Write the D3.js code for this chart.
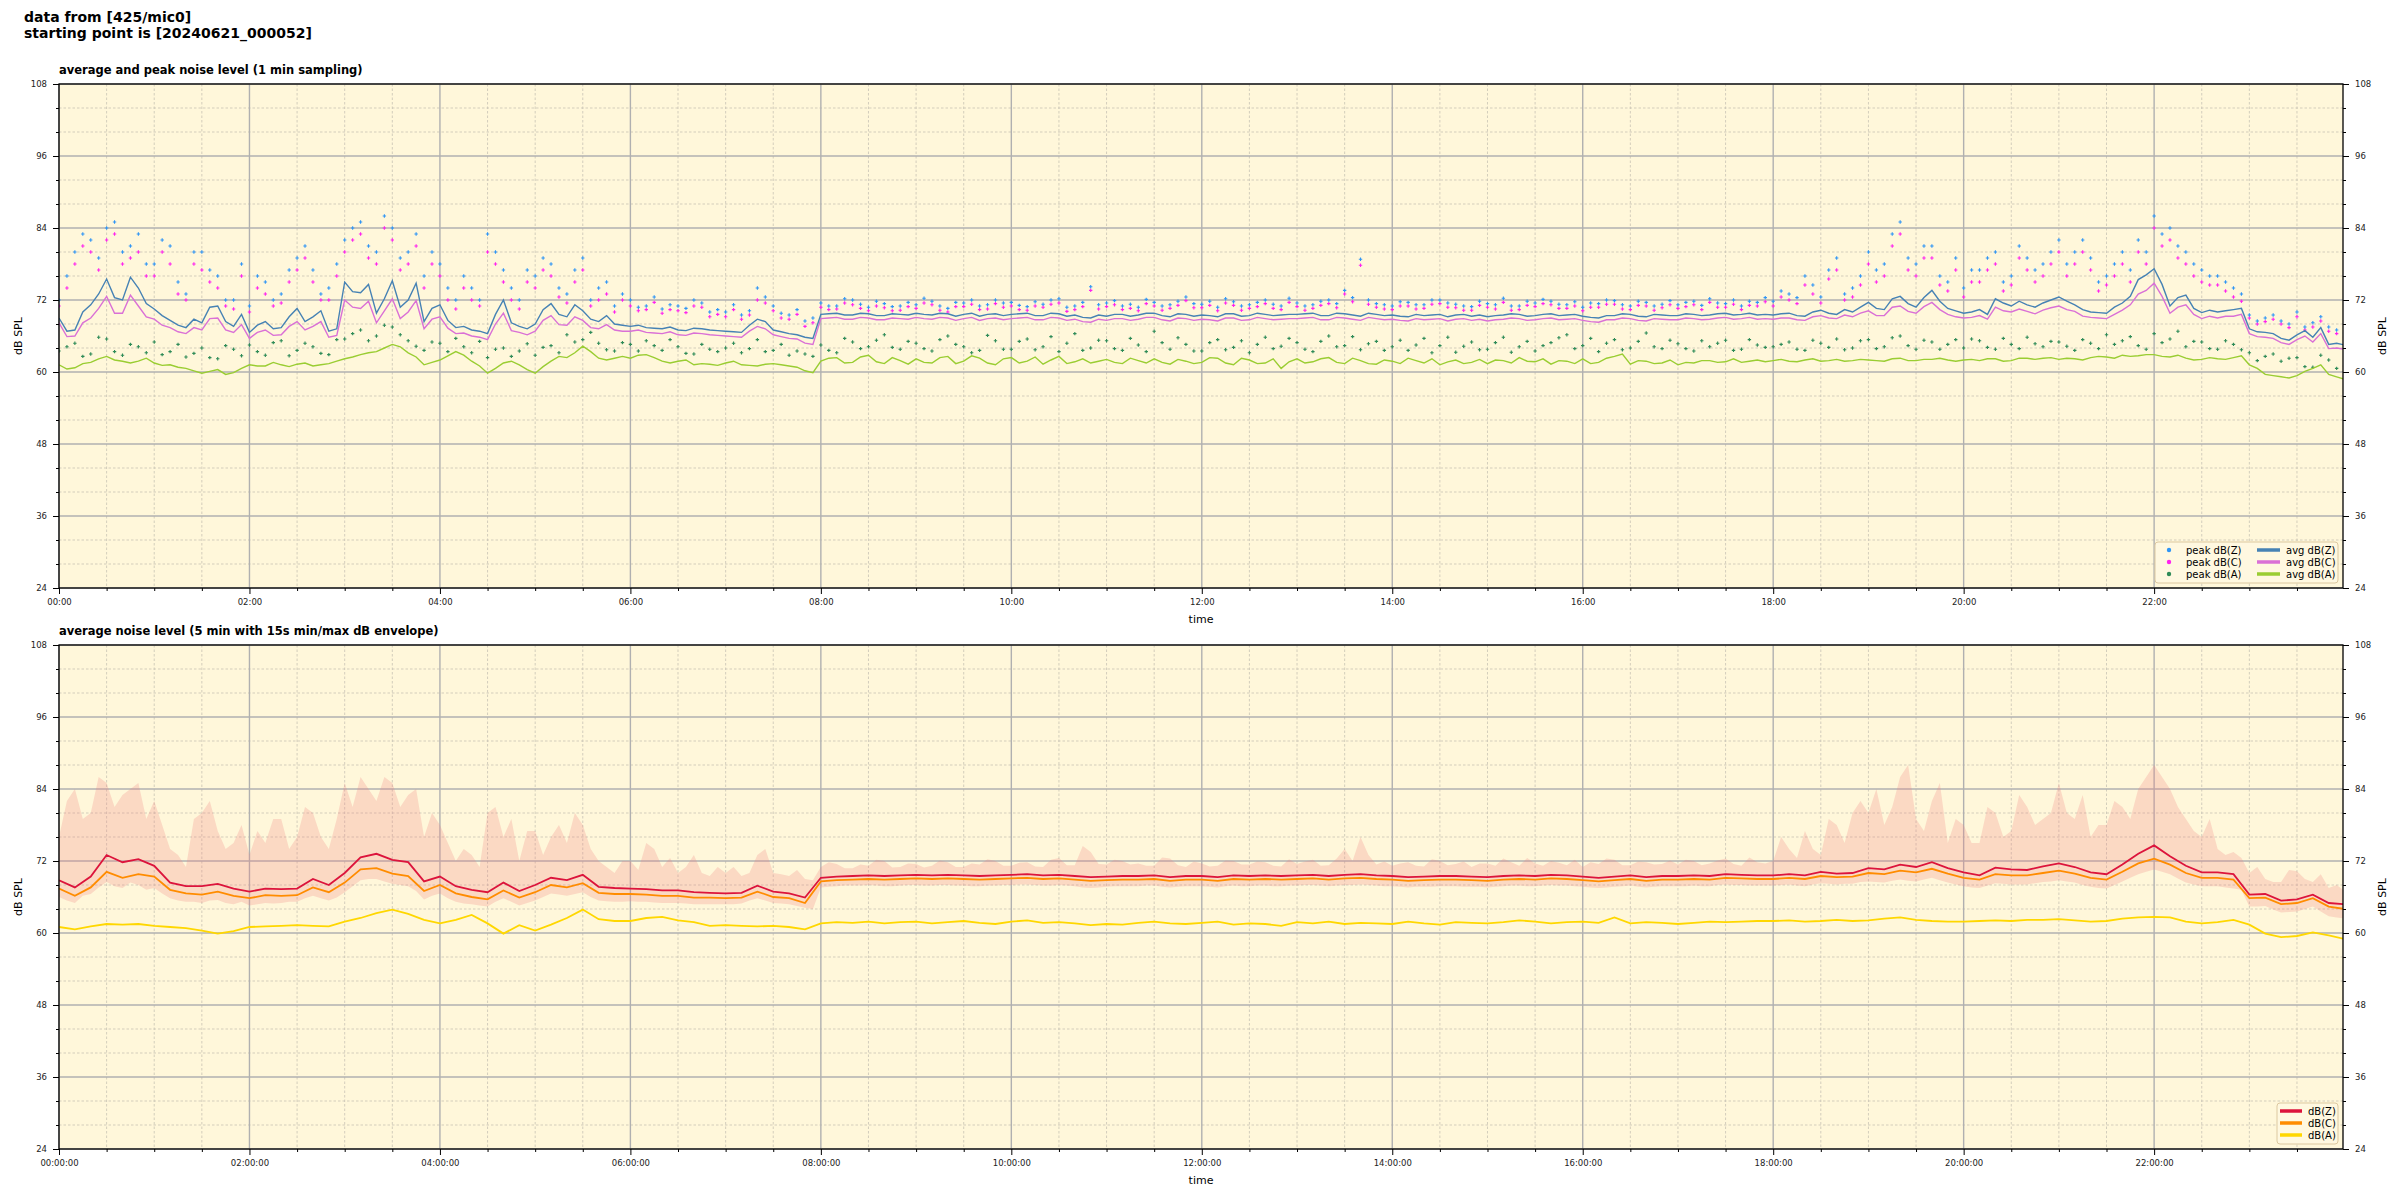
<!DOCTYPE html>
<html>
<head>
<meta charset="utf-8">
<script src="https://cdn.jsdelivr.net/npm/d3@7"></script>
<style>
  body { margin: 0; background: #fff; }
  svg { font-family: "DejaVu Sans", sans-serif; }
</style>
</head>
<body>
<svg id="chart" width="2400" height="1200"></svg>
<script>
// sample times in minutes after the starting point (one value every 10 min,
// the *5 arrays hold the readings taken 5 min later)
const minutes = d3.range(0, 1441, 10);

const hourTicks = [0, 2, 4, 6, 8, 10, 12, 14, 16, 18, 20, 22];
const topTickLabels = ["00:00", "02:00", "04:00", "06:00", "08:00", "10:00", "12:00", "14:00", "16:00", "18:00", "20:00", "22:00"];
const bottomTickLabels = ["00:00:00", "02:00:00", "04:00:00", "06:00:00", "08:00:00", "10:00:00", "12:00:00", "14:00:00", "16:00:00", "18:00:00", "20:00:00", "22:00:00"];
const dbTicks = [24, 36, 48, 60, 72, 84, 96, 108];

// ---- top panel: peak values (1 min sampling) ----
const peakZ = [
  72, 80, 82, 84, 80, 83,
  78, 81, 73, 80, 76, 72,
  71, 75, 73, 79, 77, 74,
  82, 85, 80, 84, 80, 76,
  78, 72, 74, 83, 77, 72,
  76, 78, 73, 79, 74, 71,
  72, 71, 70.5, 71, 72, 70,
  70, 69.5, 74, 71, 69.5, 68.5,
  71.5, 71, 72, 70.8, 71.4, 71,
  71.2, 71.8, 70.6, 71.5, 71, 72,
  71.6, 70.9, 71.3, 72.2, 71, 74.2,
  71.5, 71, 70.8, 71.6, 71.2, 72.5,
  71.3, 70.8, 71.7, 71.2, 72, 71,
  71.5, 71.2, 72, 73.6, 78.8, 71.4,
  71, 71.6, 71.2, 72, 71.3, 70.9,
  71.4, 72.3, 71, 71.5, 71.8, 71.2,
  70.8, 71.4, 71.9, 71, 71.6, 71.3,
  71.2, 71.8, 72.2, 71.4, 71, 71.6,
  71.8, 73, 76, 72.5, 79, 74,
  80, 78, 85, 78, 81, 75,
  74, 77, 80, 76, 79, 78,
  82, 80, 79, 76, 80, 82,
  86, 84, 80, 77, 76, 74,
  69.5, 69, 68.5, 70, 68.2, 67.5,
  66.5
];
const peakZ5 = [
  76, 83, 79, 85, 81, 78,
  82, 75, 80, 77, 72, 78,
  76, 72, 77, 81, 73, 78,
  84, 81, 86, 79, 83, 80,
  74, 76, 72, 80, 74, 77,
  79, 74, 77, 72, 75, 73,
  70.8, 72.5, 71.2, 70.6, 71.5, 70.4,
  71.2, 70.2, 72.5, 69.8, 70.4, 69,
  71, 72.2, 71.3, 71.8, 70.9, 71.6,
  72.3, 71, 71.6, 72, 71.2, 71.5,
  71.1, 71.7, 72, 70.8, 71.6, 71.2,
  71.9, 71.3, 72.1, 71, 71.8, 71.4,
  71.8, 72.2, 71, 71.6, 71.3, 72.3,
  71, 71.8, 71.4, 72.4, 72, 71.2,
  71.7, 71.2, 72, 71.5, 71, 71.8,
  71.2, 71, 71.8, 72.1, 71.3, 71.7,
  71.5, 72, 71.2, 71.8, 71, 71.9,
  71.6, 71.1, 71.5, 72, 71.8, 72.4,
  73.5, 72.4, 74.5, 77, 73, 76,
  77, 83, 79, 81, 76, 79,
  77, 79, 75, 81, 77, 80,
  78, 82, 75, 78, 77, 80,
  83, 81, 78, 76, 75, 73,
  68.5, 69.5, 68, 67.5, 69.2, 67
];
const peakC = [
  71, 78, 80, 82, 78, 80,
  76, 78, 72, 77, 74, 70.5,
  70, 73, 71.5, 77, 75, 72,
  80, 83, 78, 82, 78, 74,
  76, 70.5, 72, 80, 75, 70.5,
  74, 76, 71.5, 77, 72, 70,
  71, 70.4, 69.8, 70.2, 71, 69.2,
  69.2, 68.8, 72, 70.2, 68.8, 67.6,
  70.8, 70.5, 71.2, 70.2, 70.7, 70.3,
  70.6, 71.2, 70, 70.9, 70.4, 71.4,
  71, 70.3, 70.8, 71.5, 70.4, 73.6,
  70.9, 70.4, 70.2, 71, 70.6, 71.9,
  70.7, 70.2, 71.1, 70.6, 71.4, 70.4,
  70.9, 70.6, 71.4, 73, 77.8, 70.8,
  70.4, 71, 70.6, 71.4, 70.7, 70.3,
  70.8, 71.6, 70.4, 70.9, 71.2, 70.6,
  70.2, 70.8, 71.3, 70.4, 71, 70.7,
  70.6, 71.2, 71.6, 70.8, 70.4, 71,
  71, 72, 74.5, 71.5, 77, 72.5,
  78, 76, 83, 76, 79, 73.5,
  72.5, 75, 78, 74.5, 77, 76,
  80, 78, 77, 74.5, 78, 80,
  84, 82, 78, 75, 74.5, 72.5,
  69, 68.4, 68, 69.2, 67.5, 66.8,
  65.8
];
const peakC5 = [
  74, 81, 77, 83, 79, 76,
  80, 73, 78, 75, 71, 76,
  74, 71, 75, 79, 72, 76,
  82, 79, 84, 77, 81, 78,
  72, 74, 71, 78, 72, 75,
  77, 72.5, 75, 71, 73, 72,
  70.2, 71.6, 70.4, 69.9, 70.8, 69.6,
  70.4, 69.5, 71.5, 69, 69.6, 68.2,
  70.4, 71.5, 70.6, 71, 70.2, 70.9,
  71.5, 70.3, 70.9, 71.3, 70.5, 70.8,
  70.4, 71, 71.3, 70.1, 70.9, 70.5,
  71.2, 70.6, 71.4, 70.3, 71.1, 70.7,
  71.1, 71.5, 70.3, 70.9, 70.6, 71.6,
  70.3, 71.1, 70.7, 71.7, 71.3, 70.5,
  71, 70.5, 71.3, 70.8, 70.3, 71.1,
  70.5, 70.3, 71.1, 71.4, 70.6, 71,
  70.8, 71.3, 70.5, 71.1, 70.3, 71.2,
  70.9, 70.4, 70.8, 71.3, 71.1, 71.7,
  72.5, 71.4, 73, 75.5, 72, 74.5,
  75, 81, 77, 79, 74.5, 77,
  75, 77, 73.5, 79, 75, 78,
  76, 80, 73.5, 76, 75, 78,
  81, 79, 76, 74.5, 73.5, 71.8,
  68, 68.8, 67.4, 67, 68.5, 66.4
];
const peakA = [
  63.5, 64.8, 63, 65.5, 62.8, 64.2,
  65, 63.4, 62.5, 64, 62.2, 63.8,
  64.5, 62.8, 65.2, 63.6, 64.2, 62.9,
  65.5, 67, 66, 67.5, 65.2, 63.6,
  64.8, 65.6, 63.2, 62.4, 64, 63.5,
  62.8, 64.4, 66.2, 65.4, 64.8, 63.5,
  64.6, 65.2, 63.6, 64.2, 63, 63.8,
  64, 63.2, 65.4, 63.6, 62.8, 63,
  64.5, 63.2, 65, 64.2, 66.2, 63.8,
  64.8, 63.5, 66, 64.2, 63.6, 65.2,
  63.8, 65.5, 64.2, 63.4, 66.4, 64,
  65.2, 63.6, 64.5, 66.8, 63.8, 64.6,
  63.5, 65.4, 64.1, 63.2, 65.8, 64.3,
  64.9, 63.4, 66, 64.4, 63.7, 65.1,
  64.2, 63.6, 65.6, 64.4, 63.3, 65,
  63.8, 65.8, 64.2, 63.5, 64.9, 66.2,
  64.4, 63.4, 65.4, 64, 66.5, 63.9,
  64.7, 63.5, 64.2, 65.3, 63.8, 64.5,
  64.2, 65, 63.6, 64.8, 65.5, 64,
  65.4, 64.2, 66, 63.8, 65, 64.6,
  64, 65.2, 63.8, 64.6, 65.8, 64.2,
  65, 63.6, 64.8, 66.2, 65.2, 64.4,
  66.4, 65.5, 64.2, 65, 63.8, 64.6,
  63.2, 62.6, 61.8, 62.4, 60.8, 62,
  61
];
const peakA5 = [
  64.2, 62.6, 65.8, 63.4, 64.6, 63.2,
  62.9, 64.6, 63.1, 62.4, 64.4, 62.7,
  63.4, 64.9, 62.7, 64.8, 63.1, 65.4,
  66.4, 65.2, 67.8, 66.2, 64.3, 65,
  63.4, 64.2, 65.1, 63.8, 62.6, 64.7,
  64.1, 63.2, 65, 66.6, 63.7, 64.9,
  63.5, 64.4, 65.4, 63.1, 64.6, 63.4,
  64.8, 63.9, 63.4, 64.6, 63.5, 62.6,
  63.6, 65.6, 63.9, 65.3, 64.1, 65.1,
  63.9, 65.4, 64.6, 63.2, 66.1, 63.8,
  65.1, 63.7, 65.9, 64.8, 63.6, 65.3,
  63.9, 65.6, 63.4, 64.9, 65.7, 63.5,
  64.9, 63.7, 65.2, 64.6, 63.9, 65.6,
  63.8, 65.1, 64.2, 65.9, 64.7, 63.6,
  65.3, 64.5, 63.2, 65.8, 64.3, 63.7,
  64.9, 63.3, 65.1, 64.4, 65.7, 63.9,
  65.6, 64.8, 63.7, 65.1, 64.2, 65.3,
  63.9, 65.2, 64.8, 63.6, 65.4, 64.1,
  64.6, 63.8, 65.3, 64.1, 63.7, 65.2,
  63.9, 65.7, 64.4, 65.3, 63.8, 65.4,
  65.5, 64.1, 65.6, 63.9, 64.7, 65.1,
  64.3, 65.4, 63.9, 64.6, 65.9, 63.8,
  64.9, 66.8, 65.1, 63.9, 65.2, 63.7,
  61.9, 63, 62.3, 60.9, 62.8, 60.6
];

// ---- top panel: average values ----
const avgZ = [
  69.0, 67.0, 71.2, 75.5, 72.0, 74.0,
  70.5, 68.6, 67.4, 68.2, 71.0, 67.6,
  66.6, 68.4, 67.4, 70.6, 69.2, 66.8,
  75.0, 73.2, 69.8, 75.2, 72.0, 68.4,
  71.2, 67.4, 67.0, 66.4, 72.0, 67.6,
  68.0, 71.4, 69.2, 70.2, 68.4, 68.0,
  67.6, 67.4, 67.2, 67.0, 67.3, 67.0,
  66.8, 66.6, 68.8, 67.0, 66.4, 65.8,
  69.6, 69.8, 69.5, 69.7, 69.4, 69.6,
  69.8, 69.5, 69.7, 69.6, 69.3, 69.7,
  69.6, 69.8, 69.4, 69.7, 69.5, 69.0,
  69.3, 69.6, 69.5, 69.8, 69.2, 69.6,
  69.5, 69.2, 69.7, 69.4, 69.6, 69.5,
  69.6, 69.8, 69.4, 69.7, 69.3, 69.6,
  69.5, 69.2, 69.4, 69.6, 69.5, 69.3,
  69.2, 69.5, 69.6, 69.4, 69.7, 69.5,
  69.3, 69.0, 69.4, 69.6, 69.2, 69.5,
  69.4, 69.6, 69.5, 69.8, 69.6, 69.5,
  69.5, 69.8, 69.3, 70.3, 69.6, 70.0,
  71.6, 70.4, 72.6, 70.8, 73.6, 70.6,
  69.8, 70.4, 72.2, 71.0, 71.2, 71.5,
  72.5, 71.2, 70.0, 69.8, 71.5, 75.4,
  77.2, 71.0, 72.8, 69.9, 70.0, 70.4,
  67.2, 66.6, 65.6, 66.2, 65.8, 64.6,
  64.5
];
const avgZ5 = [
  66.8, 70.0, 73.0, 72.4, 75.8, 71.4,
  69.4, 67.8, 68.8, 70.8, 68.4, 69.6,
  67.8, 67.2, 69.2, 68.4, 70.2, 67.2,
  73.4, 74.6, 72.2, 70.8, 74.8, 70.6,
  68.6, 67.6, 66.8, 69.6, 68.2, 67.2,
  70.4, 69.6, 71.2, 68.8, 69.4, 67.8,
  67.8, 67.3, 67.5, 66.9, 67.2, 66.9,
  66.7, 67.8, 68.4, 66.7, 66.2, 65.6,
  69.7, 69.5, 69.8, 69.4, 69.7, 69.5,
  69.6, 69.8, 69.3, 69.8, 69.6, 69.4,
  69.7, 69.4, 69.8, 69.3, 69.1, 69.5,
  69.6, 69.3, 69.8, 69.4, 69.7, 69.3,
  69.4, 69.7, 69.3, 69.8, 69.4, 69.6,
  69.7, 69.4, 69.8, 69.5, 69.8, 69.4,
  69.3, 69.6, 69.5, 69.2, 69.6, 69.5,
  69.4, 69.7, 69.3, 69.6, 69.4, 69.6,
  69.1, 69.4, 69.7, 69.3, 69.6, 69.4,
  69.7, 69.4, 69.7, 69.5, 69.8, 69.6,
  69.7, 69.4, 70.0, 69.8, 70.4, 70.8,
  70.6, 72.2, 71.4, 72.4, 71.8, 70.2,
  70.0, 69.6, 71.5, 71.8, 70.8, 72.0,
  71.8, 70.4, 69.9, 70.8, 72.6, 76.2,
  74.6, 72.4, 70.6, 70.3, 70.2, 70.6,
  66.7, 66.4, 65.3, 66.9, 67.4, 64.8
];
const avgC = [
  68.2, 66.0, 69.0, 72.6, 69.8, 71.0,
  68.8, 67.4, 66.4, 67.0, 69.0, 66.6,
  65.6, 67.0, 66.2, 68.4, 67.6, 65.8,
  72.0, 70.6, 68.2, 72.2, 70.0, 67.2,
  69.2, 66.4, 66.0, 65.4, 69.8, 66.6,
  66.8, 69.4, 67.8, 68.6, 67.2, 67.0,
  66.8, 66.6, 66.4, 66.2, 66.5, 66.2,
  66.0, 65.8, 67.6, 66.2, 65.6, 64.8,
  68.9, 69.1, 68.8, 69.0, 68.7, 68.9,
  69.1, 68.8, 69.0, 68.9, 68.6, 69.0,
  68.9, 69.1, 68.7, 69.0, 68.8, 68.3,
  68.6, 68.9, 68.8, 69.1, 68.5, 68.9,
  68.8, 68.5, 69.0, 68.7, 68.9, 68.8,
  68.9, 69.1, 68.7, 69.0, 68.6, 68.9,
  68.8, 68.5, 68.7, 68.9, 68.8, 68.6,
  68.5, 68.8, 68.9, 68.7, 69.0, 68.8,
  68.6, 68.3, 68.7, 68.9, 68.5, 68.8,
  68.7, 68.9, 68.8, 69.1, 68.9, 68.8,
  68.8, 69.0, 68.6, 69.4, 68.9, 69.2,
  70.2, 69.4, 71.0, 69.8, 71.6, 69.6,
  69.0, 69.4, 70.8, 70.0, 70.1, 70.3,
  71.0, 70.1, 69.1, 68.9, 70.3, 73.0,
  74.8, 69.8, 71.2, 68.9, 69.0, 69.3,
  66.4, 65.8, 64.9, 65.4, 65.0, 63.9,
  63.8
];
const avgC5 = [
  65.9, 68.2, 70.6, 69.8, 72.8, 69.2,
  67.8, 66.7, 67.4, 68.9, 67.0, 67.9,
  66.6, 66.1, 67.6, 67.0, 68.4, 66.1,
  70.8, 71.8, 70.2, 68.9, 71.9, 68.8,
  67.3, 66.5, 65.8, 68.0, 66.9, 66.2,
  68.6, 67.9, 69.2, 67.4, 67.9, 66.8,
  67.0, 66.5, 66.7, 66.1, 66.4, 66.1,
  65.9, 66.8, 67.2, 65.9, 65.5, 64.6,
  69.0, 68.8, 69.1, 68.7, 69.0, 68.8,
  68.9, 69.1, 68.6, 69.1, 68.9, 68.7,
  69.0, 68.7, 69.1, 68.6, 68.4, 68.8,
  68.9, 68.6, 69.1, 68.7, 69.0, 68.6,
  68.7, 69.0, 68.6, 69.1, 68.7, 68.9,
  69.0, 68.7, 69.1, 68.8, 69.1, 68.7,
  68.6, 68.9, 68.8, 68.5, 68.9, 68.8,
  68.7, 69.0, 68.6, 68.9, 68.7, 68.9,
  68.4, 68.7, 69.0, 68.6, 68.9, 68.7,
  69.0, 68.7, 69.0, 68.8, 69.1, 68.9,
  69.0, 68.7, 69.2, 69.0, 69.5, 69.8,
  69.4, 70.8, 70.1, 70.9, 70.4, 69.2,
  69.1, 68.8, 70.2, 70.5, 69.7, 70.7,
  70.4, 69.3, 69.0, 69.6, 71.2, 73.6,
  72.6, 70.8, 69.6, 69.3, 69.3, 69.6,
  65.9, 65.6, 64.6, 66.0, 66.4, 64.0
];
const avgA = [
  61.2, 60.7, 61.6, 62.6, 61.8, 61.8,
  61.5, 61.2, 60.6, 59.8, 60.4, 59.9,
  61.2, 61.0, 61.2, 61.3, 61.0, 61.4,
  62.2, 62.9, 63.4, 64.6, 63.2, 61.2,
  62.0, 63.4, 61.8, 59.8, 61.5, 61.2,
  59.8, 61.8, 62.4, 64.3, 62.3, 62.3,
  62.3, 62.9, 61.8, 61.8, 61.2, 61.3,
  61.5, 61.2, 61.0, 61.4, 61.0, 60.2,
  61.8, 62.4, 61.6, 62.8, 61.4, 61.9,
  62.2, 61.5, 62.6, 61.8, 62.3, 61.2,
  62.4, 61.8, 61.3, 62.6, 61.7, 61.5,
  62.1, 61.4, 61.9, 62.2, 61.3, 61.8,
  61.6, 62.3, 61.2, 62.0, 61.5, 60.6,
  62.2, 61.7, 62.4, 61.4, 61.9, 61.3,
  61.8, 62.3, 61.5, 61.2, 62.0, 61.6,
  61.4, 61.9, 62.4, 61.7, 61.3, 61.8,
  62.2, 61.6, 62.6, 61.3, 61.8, 61.5,
  61.2, 61.5, 61.9, 61.7, 61.6, 62.0,
  61.9, 61.8, 62.0, 61.8, 62.1, 61.9,
  62.0, 61.8, 62.3, 61.9, 62.1, 62.0,
  62.0, 61.9, 62.2, 61.9, 62.3, 62.3,
  62.1, 62.2, 62.4, 62.5, 62.8, 62.7,
  62.9, 62.5, 62.3, 62.1, 62.2, 62.4,
  61.2, 59.6, 59.2, 59.4, 60.6, 59.6,
  58.8
];
const avgA5 = [
  60.5, 61.4, 62.2, 62.0, 61.5, 62.3,
  61.1, 60.8, 60.2, 60.1, 59.6, 60.6,
  61.0, 61.6, 60.9, 61.5, 61.2, 61.8,
  62.5, 63.2, 64.0, 64.2, 62.5, 61.6,
  62.7, 62.8, 61.0, 60.6, 61.8, 60.4,
  60.9, 62.6, 63.2, 63.4, 62.0, 62.6,
  62.8, 62.4, 61.5, 62.0, 61.4, 61.1,
  61.8, 61.1, 61.3, 61.2, 60.8, 59.9,
  62.3, 61.5, 62.5, 61.7, 62.4, 61.3,
  61.6, 62.4, 61.4, 62.7, 61.5, 62.2,
  61.5, 62.5, 62.0, 61.4, 62.2, 61.8,
  61.6, 62.3, 61.5, 61.6, 62.1, 61.4,
  62.4, 61.5, 62.3, 61.4, 62.2, 61.7,
  61.5, 62.2, 61.6, 62.3, 61.4, 62.0,
  61.4, 61.9, 62.2, 61.7, 61.4, 62.1,
  62.0, 61.5, 61.8, 62.2, 61.9, 61.4,
  61.4, 62.3, 63.0, 61.9, 61.4, 62.0,
  61.6, 61.9, 61.6, 62.2, 61.8, 61.7,
  62.1, 61.7, 62.2, 61.9, 61.8, 62.1,
  61.9, 62.2, 61.9, 62.1, 62.3, 61.8,
  62.1, 62.2, 61.8, 62.3, 62.1, 62.4,
  62.3, 62.0, 62.6, 62.3, 62.6, 62.9,
  62.6, 62.8, 62.0, 62.4, 62.1, 62.7,
  60.6, 59.4, 59.0, 60.1, 61.2, 59.2
];

// ---- bottom panel: 5 min averages ----
const lineZ = [
  68.8, 67.6, 69.4, 73.0, 71.8, 72.3,
  71.2, 68.4, 67.8, 67.8, 68.2, 67.4,
  66.9, 67.4, 67.3, 67.4, 69.0, 68.0,
  70.0, 72.6, 73.2, 72.2, 71.8, 68.6,
  69.4, 67.8, 67.2, 66.8, 68.4, 67.0,
  68.0, 69.2, 68.8, 69.7, 67.7, 67.5,
  67.4, 67.3, 67.1, 67.1, 66.8, 66.7,
  66.6, 66.7, 67.9, 66.9, 66.6, 65.9,
  69.2, 69.4, 69.5, 69.6, 69.5, 69.6,
  69.7, 69.6, 69.7, 69.6, 69.5, 69.6,
  69.7, 69.8, 69.6, 69.7, 69.5, 69.3,
  69.4, 69.5, 69.5, 69.6, 69.3, 69.5,
  69.5, 69.3, 69.6, 69.5, 69.6, 69.5,
  69.6, 69.7, 69.5, 69.7, 69.8, 69.6,
  69.5, 69.3, 69.4, 69.5, 69.5, 69.4,
  69.3, 69.5, 69.6, 69.5, 69.7, 69.6,
  69.4, 69.2, 69.4, 69.6, 69.3, 69.5,
  69.5, 69.6, 69.5, 69.8, 69.7, 69.6,
  69.6, 69.8, 69.6, 70.2, 69.9, 70.0,
  70.8, 70.6, 71.4, 71.0, 71.8, 70.8,
  70.1, 69.6, 70.9, 70.6, 70.5, 71.1,
  71.6, 71.0, 70.1, 69.8, 71.4, 73.2,
  74.6, 72.8, 71.2, 70.1, 70.1, 69.8,
  66.4, 66.5, 65.4, 65.6, 66.4, 65.0,
  64.8
];
const lineC = [
  67.4, 66.2, 67.6, 70.2, 69.2, 69.8,
  69.4, 67.2, 66.6, 66.4, 66.9, 66.2,
  65.8, 66.3, 66.2, 66.3, 67.6, 66.8,
  68.4, 70.6, 70.8, 69.9, 69.5, 67.0,
  68.0, 66.6, 66.0, 65.6, 67.1, 65.9,
  66.8, 68.0, 67.6, 68.3, 66.7, 66.5,
  66.5, 66.4, 66.2, 66.2, 65.9, 65.9,
  65.8, 65.9, 66.9, 66.0, 65.8, 65.0,
  68.6, 68.8, 68.9, 69.0, 68.9, 69.0,
  69.1, 69.0, 69.1, 69.0, 68.9, 69.0,
  69.1, 69.2, 69.0, 69.1, 68.9, 68.7,
  68.8, 68.9, 68.9, 69.0, 68.7, 68.9,
  68.9, 68.7, 69.0, 68.9, 69.0, 68.9,
  69.0, 69.1, 68.9, 69.1, 69.2, 69.0,
  68.9, 68.7, 68.8, 68.9, 68.9, 68.8,
  68.7, 68.9, 69.0, 68.9, 69.1, 69.0,
  68.8, 68.6, 68.8, 69.0, 68.7, 68.9,
  68.9, 69.0, 68.9, 69.2, 69.1, 69.0,
  69.0, 69.2, 69.0, 69.5, 69.3, 69.4,
  70.0, 69.8, 70.4, 70.1, 70.7, 69.9,
  69.2, 68.9, 69.8, 69.6, 69.6, 70.0,
  70.4, 69.9, 69.2, 68.9, 70.2, 71.6,
  72.4, 71.4, 70.0, 69.2, 69.2, 68.9,
  65.8, 65.9, 64.8, 65.0, 65.8, 64.4,
  64.0
];
const lineA = [
  61.0, 60.6, 61.1, 61.5, 61.4, 61.5,
  61.2, 61.0, 60.8, 60.4, 59.9, 60.3,
  61.0, 61.1, 61.2, 61.3, 61.2, 61.1,
  61.9, 62.5, 63.3, 63.9, 63.2, 62.2,
  61.6, 62.2, 63.0, 61.6, 59.9, 61.3,
  60.4, 61.4, 62.5, 63.9, 62.3, 62.0,
  62.0, 62.5, 62.7, 62.1, 61.8, 61.2,
  61.3, 61.2, 61.1, 61.2, 61.0, 60.6,
  61.6, 61.8, 61.7, 61.9, 61.6, 61.8,
  61.9, 61.6, 61.8, 62.0, 61.7, 61.5,
  61.9, 62.1, 61.7, 61.8, 61.6, 61.3,
  61.5, 61.4, 61.7, 61.9, 61.6, 61.5,
  61.7, 61.9, 61.4, 61.6, 61.5, 61.2,
  61.8, 61.6, 61.9, 61.5, 61.7, 61.6,
  61.5, 61.9, 61.6, 61.4, 61.8, 61.7,
  61.6, 61.8, 62.1, 61.9, 61.6, 61.8,
  61.9, 61.7, 62.6, 61.6, 61.8, 61.7,
  61.5, 61.7, 61.9, 61.8, 61.9, 62.0,
  62.0, 62.1, 61.9, 62.0, 62.2, 62.0,
  62.1, 62.4, 62.6, 62.2, 62.0, 61.9,
  61.9, 62.0, 62.1, 62.0, 62.2, 62.2,
  62.3, 62.1, 61.9, 62.0, 62.4, 62.6,
  62.7, 62.6, 61.9, 61.6, 61.8, 62.2,
  61.4, 59.9, 59.3, 59.5, 60.1, 59.6,
  59.0
];
// 15 s min/max envelope
const envMax = [
  76, 84, 80, 85, 83, 85,
  82, 74, 71, 80, 77, 75,
  73, 75, 79, 76, 80, 74,
  85, 86, 82, 85, 83, 76,
  78, 72, 73, 80, 76, 72,
  77, 76, 75, 78, 72, 70,
  72, 75, 71, 70, 73, 69.5,
  70, 69.5, 73, 70, 69.5, 69,
  71, 71.5, 70.8, 71.2, 72, 71,
  71.5, 71.2, 71.8, 71, 71.4, 72,
  71.2, 71.8, 71, 72.5, 71.3, 73.5,
  71.4, 72, 71.6, 71.2, 72.4, 71,
  71.6, 71.2, 72, 71.4, 71.8, 71.1,
  71.5, 72.2, 71.3, 74, 76, 71.4,
  71.2, 71.8, 71.1, 72, 71.5, 71,
  71.6, 72.4, 71.2, 71.6, 72, 71.3,
  71, 71.5, 72.2, 71.3, 71.8, 71.5,
  71.4, 72, 71.6, 72.4, 71.2, 71.8,
  72, 74, 77, 73, 78, 80,
  80, 78, 86, 79, 82, 75,
  78, 75, 80, 77, 81, 79,
  85, 79, 76, 78, 81, 84,
  88, 84, 79, 76, 74, 73.5,
  70, 69, 68.5, 70.3, 68.5, 67.5,
  67
];
const envMax5 = [
  82, 79, 86, 81, 84, 79,
  78, 73, 79, 82, 74, 78,
  77, 79, 74, 81, 76, 79,
  81, 84, 86, 81, 84, 80,
  75, 74, 71, 81, 79, 77,
  73, 78, 80, 74, 71, 72,
  70.5, 74, 72.5, 71, 70, 71,
  71, 70, 74, 69.8, 70.5, 68.8,
  71.8, 70.8, 71.4, 72.2, 70.9, 71.6,
  70.9, 72.1, 71, 71.6, 72.3, 71.2,
  71.7, 71.1, 72.2, 71.3, 74.5, 71.5,
  72.2, 71.4, 71.2, 72.6, 71.3, 71.9,
  71.1, 72.1, 71.4, 71.9, 71.2, 72.3,
  71.9, 71.2, 72.4, 72, 73, 71.9,
  71.6, 71.2, 72.3, 71.3, 71.9, 71.6,
  71.2, 71.8, 72.5, 71.2, 71.7, 72.2,
  71.8, 72.4, 71.3, 71.9, 71.4, 72.1,
  72.2, 71.3, 72.1, 71.5, 72.6, 71.6,
  76, 72.5, 74, 79, 75, 82,
  84, 81, 88, 77, 85, 79,
  75, 81, 76, 83, 78, 80,
  80, 83, 78, 82, 79, 86,
  86, 81, 77, 79, 73, 72.5,
  71, 68.5, 70.5, 69, 69.8, 68
];
const envMin = [
  66, 65, 66.5, 68.5, 67.5, 68,
  67.5, 65.8, 65.2, 65, 65.5, 64.8,
  64.6, 65, 65, 65.2, 66.2, 65.4,
  66.8, 68.8, 69, 68.2, 67.8, 65.6,
  66.6, 65.2, 64.8, 64.4, 65.8, 64.6,
  65.4, 66.6, 66.2, 66.8, 65.4, 65.2,
  65.3, 65.2, 65, 65, 64.8, 64.8,
  64.8, 64.9, 65.8, 65, 64.8, 64.2,
  67.6, 67.8, 67.9, 68, 67.8, 67.9,
  68, 67.9, 68, 67.9, 67.8, 67.9,
  68, 68.1, 67.9, 68, 67.8, 67.5,
  67.7, 67.8, 67.8, 67.9, 67.6, 67.8,
  67.8, 67.6, 67.9, 67.8, 67.9, 67.8,
  67.9, 68, 67.8, 68, 68.1, 67.9,
  67.8, 67.6, 67.7, 67.8, 67.8, 67.7,
  67.6, 67.8, 67.9, 67.8, 68, 67.9,
  67.7, 67.5, 67.7, 67.9, 67.6, 67.8,
  67.8, 67.9, 67.8, 68.1, 68, 67.9,
  67.9, 68.1, 67.8, 68.3, 68.1, 68.2,
  68.6, 68.4, 68.9, 68.6, 69.2, 68.4,
  67.8, 67.5, 68.3, 68.1, 68.1, 68.5,
  68.8, 68.4, 67.7, 67.4, 68.6, 69.8,
  70.6, 69.8, 68.4, 67.8, 67.8, 67.4,
  64.4, 64.5, 63.4, 63.6, 64.4, 62.8,
  62.4
];
const envMin5 = [
  65.4, 66.2, 67.6, 67.8, 68.4, 67.2,
  66.6, 65.4, 65.2, 65.4, 65.0, 65.2,
  64.8, 64.9, 65.2, 65.8, 65.8, 65.9,
  67.8, 69.0, 68.6, 68.0, 67.0, 66.2,
  65.8, 64.9, 64.6, 65.2, 65.2, 65.0,
  66.0, 66.4, 66.5, 66.0, 65.3, 65.2,
  65.2, 65.1, 65.0, 64.9, 64.8, 64.8,
  64.8, 65.4, 65.4, 64.9, 64.5, 64.0,
  67.7, 67.9, 67.9, 67.9, 67.8, 68.0,
  67.9, 68.0, 67.9, 67.8, 67.9, 68.0,
  68.1, 68.0, 67.9, 67.9, 67.6, 67.6,
  67.8, 67.8, 67.9, 67.7, 67.7, 67.8,
  67.7, 67.8, 67.8, 67.9, 67.8, 67.9,
  68.0, 67.9, 67.9, 68.0, 68.0, 67.8,
  67.7, 67.7, 67.7, 67.8, 67.7, 67.7,
  67.7, 67.9, 67.8, 67.9, 67.9, 67.8,
  67.6, 67.6, 67.8, 67.7, 67.7, 67.8,
  67.8, 67.8, 68.0, 68.0, 67.9, 67.9,
  68.0, 67.9, 68.1, 68.2, 68.2, 68.5,
  68.5, 68.7, 68.7, 68.9, 68.8, 68.1,
  67.6, 67.9, 68.2, 68.1, 68.3, 68.6,
  68.6, 68.0, 67.5, 68.0, 69.2, 70.2,
  70.2, 69.1, 68.1, 67.8, 67.6, 67.2,
  64.4, 63.9, 63.5, 64.0, 63.6, 62.6
];

// merge the :x0 readings with the :x5 readings into one time-ordered list
function interleave(a, b) {
    const out = [];
    a.forEach((v, i) => {
        out.push(v);
        if (i < b.length) out.push(b[i]);
    });
    return out;
}
const times = interleave(minutes, minutes.slice(0, 144).map(m => m + 5));

const svg = d3.select('#chart');
const x = d3.scaleLinear().domain([0, 1439]).range([59, 2343]);

// figure title
svg.append('text').attr('x', 24).attr('y', 22)
    .style('font-size', '14px').style('font-weight', 'bold')
    .text('data from [425/mic0]');
svg.append('text').attr('x', 24).attr('y', 38)
    .style('font-size', '14px').style('font-weight', 'bold')
    .text('starting point is [20240621_000052]');

// Function to draw one panel frame (background, grid, axes, labels)
function makePanel(id, y0, y1, title, titleY, tickLabels) {
    const y = d3.scaleLinear().domain([24, 108]).range([y1, y0]);
    const g = svg.append('g');

    g.append('rect')
        .attr('x', x.range()[0]).attr('y', y0)
        .attr('width', x.range()[1] - x.range()[0]).attr('height', y1 - y0)
        .attr('fill', '#fff7da');

    const minorX = d3.range(30, 1439, 30).filter(m => m % 120 !== 0);
    const majorX = hourTicks.map(h => h * 60);
    const minorY = d3.range(28, 108, 4).filter(v => v % 12 !== 0);

    // minor grid
    g.append('g').selectAll('line').data(minorX).enter().append('line')
        .attr('x1', d => x(d)).attr('x2', d => x(d)).attr('y1', y0).attr('y2', y1)
        .style('stroke', '#c8c3b4').style('stroke-width', 0.8).style('stroke-dasharray', '2.5,2');
    g.append('g').selectAll('line').data(minorY).enter().append('line')
        .attr('y1', d => y(d)).attr('y2', d => y(d)).attr('x1', x.range()[0]).attr('x2', x.range()[1])
        .style('stroke', '#c8c3b4').style('stroke-width', 0.8).style('stroke-dasharray', '2.5,2');
    // major grid
    g.append('g').selectAll('line').data(majorX).enter().append('line')
        .attr('x1', d => x(d)).attr('x2', d => x(d)).attr('y1', y0).attr('y2', y1)
        .style('stroke', '#b0b0b0').style('stroke-width', 1.4);
    g.append('g').selectAll('line').data(dbTicks).enter().append('line')
        .attr('y1', d => y(d)).attr('y2', d => y(d)).attr('x1', x.range()[0]).attr('x2', x.range()[1])
        .style('stroke', '#b0b0b0').style('stroke-width', 1.4);

    // clip for the data
    svg.append('clipPath').attr('id', id)
        .append('rect').attr('x', x.range()[0]).attr('y', y0)
        .attr('width', x.range()[1] - x.range()[0]).attr('height', y1 - y0);
    const plot = svg.append('g').attr('clip-path', `url(#${id})`);

    // axes
    const axes = svg.append('g');
    axes.append('g').attr('transform', `translate(0,${y1})`)
        .call(d3.axisBottom(x).tickValues(majorX).tickFormat((d, i) => tickLabels[i]).tickSize(6).tickPadding(5));
    axes.append('g').attr('transform', `translate(0,${y1})`)
        .call(d3.axisBottom(x).tickValues(minorX).tickFormat('').tickSize(3));
    axes.append('g').attr('transform', `translate(${x.range()[0]},0)`)
        .call(d3.axisLeft(y).tickValues(dbTicks).tickSize(6).tickPadding(6));
    axes.append('g').attr('transform', `translate(${x.range()[0]},0)`)
        .call(d3.axisLeft(y).tickValues(minorY).tickFormat('').tickSize(3));
    axes.append('g').attr('transform', `translate(${x.range()[1]},0)`)
        .call(d3.axisRight(y).tickValues(dbTicks).tickSize(6).tickPadding(6));
    axes.append('g').attr('transform', `translate(${x.range()[1]},0)`)
        .call(d3.axisRight(y).tickValues(minorY).tickFormat('').tickSize(3));
    axes.selectAll('.domain').remove();
    axes.selectAll('.tick line').style('stroke', '#000').style('stroke-width', 1);
    axes.selectAll('.tick text').style('font-size', '8.5px').style('fill', '#222')
        .style('font-family', '"DejaVu Sans", sans-serif');

    // spines
    svg.append('rect')
        .attr('x', x.range()[0]).attr('y', y0)
        .attr('width', x.range()[1] - x.range()[0]).attr('height', y1 - y0)
        .attr('fill', 'none').style('stroke', '#000').style('stroke-width', 1.3);

    // titles and labels
    svg.append('text').attr('x', x.range()[0]).attr('y', titleY)
        .style('font-size', '11.5px').style('font-weight', 'bold').text(title);
    svg.append('text').attr('x', (x.range()[0] + x.range()[1]) / 2).attr('y', y1 + 35)
        .attr('text-anchor', 'middle').style('font-size', '11px').text('time');
    const midY = (y0 + y1) / 2;
    svg.append('text').attr('transform', `translate(22,${midY}) rotate(-90)`)
        .attr('text-anchor', 'middle').style('font-size', '11px').text('dB SPL');
    svg.append('text').attr('transform', `translate(2386,${midY}) rotate(-90)`)
        .attr('text-anchor', 'middle').style('font-size', '11px').text('dB SPL');

    return { y, plot };
}

// ---- top panel ----
const topP = makePanel('clipTop', 84, 588, 'average and peak noise level (1 min sampling)', 74, topTickLabels);

const peakSeries = [
    { name: 'peak dB(Z)', values: interleave(peakZ, peakZ5), color: '#2f95f5' },
    { name: 'peak dB(C)', values: interleave(peakC, peakC5), color: '#ff22ee' },
    { name: 'peak dB(A)', values: interleave(peakA, peakA5), color: '#2e8b57' }
];
const avgSeries = [
    { name: 'avg dB(Z)', values: interleave(avgZ, avgZ5), color: '#4682b4' },
    { name: 'avg dB(C)', values: interleave(avgC, avgC5), color: '#da70d6' },
    { name: 'avg dB(A)', values: interleave(avgA, avgA5), color: '#9acd32' }
];

peakSeries.slice().reverse().forEach(s => {
    topP.plot.append('g').selectAll('path').data(s.values).enter().append('path')
        .attr('d', (d, i) => {
            const px = x(times[i]), py = topP.y(d);
            return `M${px - 1.7},${py}H${px + 1.7}M${px},${py - 1.7}V${py + 1.7}`;
        })
        .style('stroke', s.color).style('stroke-width', 1.1).style('fill', 'none');
});

avgSeries.slice().reverse().forEach(s => {
    const line = d3.line().x((d, i) => x(times[i])).y(d => topP.y(d));
    topP.plot.append('path').datum(s.values).attr('d', line)
        .style('fill', 'none').style('stroke', s.color).style('stroke-width', 1.4);
});

// top legend
const leg1 = svg.append('g');
leg1.append('rect').attr('x', 2155).attr('y', 542).attr('width', 183).attr('height', 41)
    .attr('rx', 3).style('fill', '#fff8e0').style('stroke', '#dcc8a0').style('stroke-width', 1);
peakSeries.forEach((s, i) => {
    const ly = 550 + i * 12;
    leg1.append('circle').attr('cx', 2169).attr('cy', ly).attr('r', 2.2).style('fill', s.color);
    leg1.append('text').attr('x', 2186).attr('y', ly).attr('dy', '0.35em')
        .style('font-size', '10px').text(s.name);
});
avgSeries.forEach((s, i) => {
    const ly = 550 + i * 12;
    leg1.append('line').attr('x1', 2257).attr('x2', 2280).attr('y1', ly).attr('y2', ly)
        .style('stroke', s.color).style('stroke-width', 3.5);
    leg1.append('text').attr('x', 2286).attr('y', ly).attr('dy', '0.35em')
        .style('font-size', '10px').text(s.name);
});

// ---- bottom panel ----
const botP = makePanel('clipBottom', 645, 1149, 'average noise level (5 min with 15s min/max dB envelope)', 635, bottomTickLabels);

const envHigh = interleave(envMax, envMax5);
const envLow = interleave(envMin, envMin5);
const envArea = d3.area()
    .x((d, i) => x(times[i]))
    .y0((d, i) => botP.y(envLow[i]))
    .y1(d => botP.y(d));
botP.plot.append('path').datum(envHigh).attr('d', envArea)
    .style('fill', '#f08080').style('fill-opacity', 0.25).style('stroke', 'none');

const bottomSeries = [
    { name: 'dB(Z)', values: lineZ, color: '#dc143c' },
    { name: 'dB(C)', values: lineC, color: '#ff8c00' },
    { name: 'dB(A)', values: lineA, color: '#ffd700' }
];
bottomSeries.forEach(s => {
    const line = d3.line().x((d, i) => x(minutes[i])).y(d => botP.y(d));
    botP.plot.append('path').datum(s.values).attr('d', line)
        .style('fill', 'none').style('stroke', s.color).style('stroke-width', 1.8);
});

// bottom legend
const leg2 = svg.append('g');
leg2.append('rect').attr('x', 2277).attr('y', 1103).attr('width', 61).attr('height', 41)
    .attr('rx', 3).style('fill', '#fff8e0').style('stroke', '#dcc8a0').style('stroke-width', 1);
bottomSeries.forEach((s, i) => {
    const ly = 1111 + i * 12;
    leg2.append('line').attr('x1', 2280).attr('x2', 2302).attr('y1', ly).attr('y2', ly)
        .style('stroke', s.color).style('stroke-width', 3.5);
    leg2.append('text').attr('x', 2308).attr('y', ly).attr('dy', '0.35em')
        .style('font-size', '10px').text(s.name);
});
</script>
</body>
</html>
